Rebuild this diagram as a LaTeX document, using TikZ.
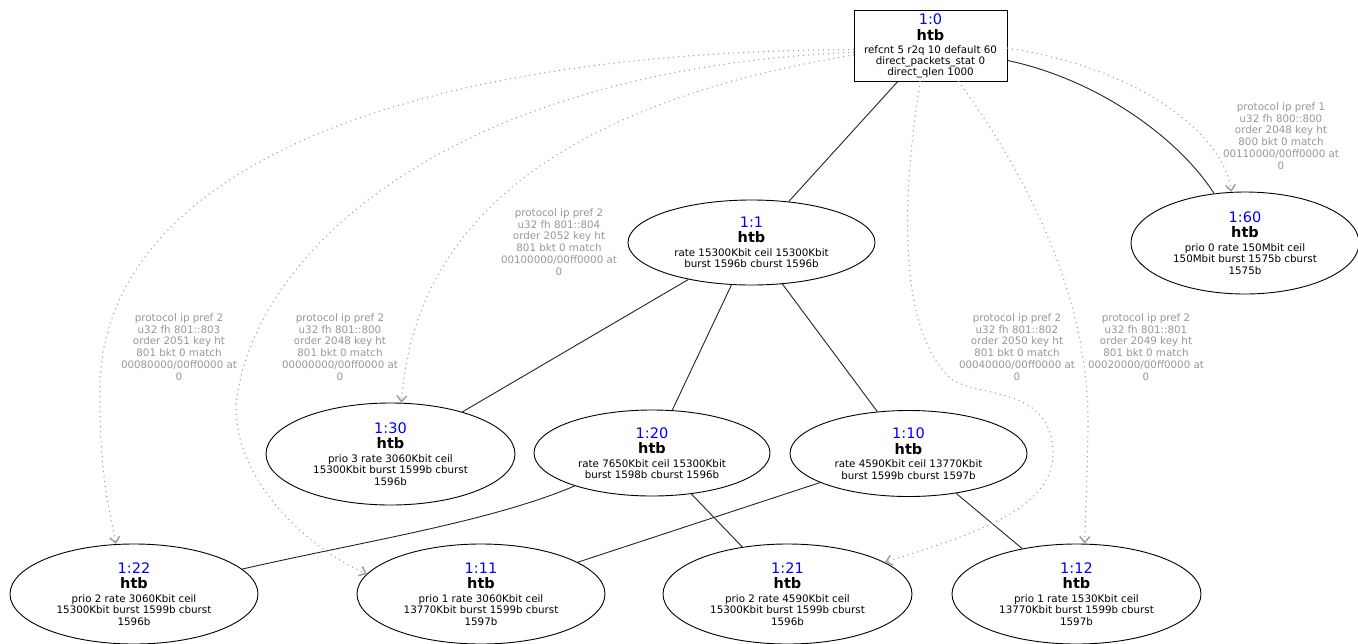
\documentclass[tikz,border=0pt]{standalone}
\usepackage{fontspec}
\setmainfont{DejaVu Sans}
\usetikzlibrary{shapes.geometric,arrows.meta}

\definecolor{idblue}{RGB}{0,0,255}
\definecolor{filtergray}{RGB}{160,160,160}
\definecolor{filtertext}{RGB}{150,150,150}
\definecolor{linkdark}{RGB}{35,35,35}

% heading of a qdisc/class box: blue handle, then the kind
\newcommand\qhead[1]{{\fontsize{14.5}{15.5}\selectfont\color{idblue}#1}\\[4pt]{\fontsize{14.5}{15.5}\selectfont\bfseries htb}\\[2pt]}

\tikzset{
  qclass/.style={ellipse, draw, line width=0.9pt, inner sep=0pt, align=center,
                 font=\fontsize{10.3}{11.5}\selectfont},
  qroot/.style={rectangle, draw, line width=0.9pt, inner sep=0pt, align=center,
                font=\fontsize{10.3}{11}\selectfont,
                minimum width=153pt, minimum height=71pt},
  link/.style={draw=linkdark, line width=0.9pt},
  filter/.style={draw=filtergray, line width=1.5pt, dash pattern=on 0pt off 5pt,
                 line cap=round,
                 -{Straight Barb[length=6pt,width=10pt,line width=1.5pt]}},
  filterlabel/.style={text=filtertext, align=center, inner sep=0pt,
                      font=\fontsize{10.3}{11.8}\selectfont}
}

\begin{document}
\begin{tikzpicture}[x=1pt,y=-1pt]
\useasboundingbox (0,0) rectangle (1358,643);

% root qdisc
\node[qroot] (q0) at (930.5,45.5)
  {\qhead{1:0}refcnt 5 r2q 10 default 60\\direct\_packets\_stat 0\\direct\_qlen 1000};

% classes
\node[qclass, minimum width=247pt, minimum height=85pt] (q1) at (751.5,242.5)
  {\qhead{1:1}rate 15300Kbit ceil 15300Kbit\\burst 1596b cburst 1596b};
\node[qclass, minimum width=228pt, minimum height=102pt] (q60) at (1245,243)
  {\qhead{1:60}prio 0 rate 150Mbit ceil\\150Mbit burst 1575b cburst\\1575b};
\node[qclass, minimum width=249pt, minimum height=102pt] (q30) at (390.5,454)
  {\qhead{1:30}prio 3 rate 3060Kbit ceil\\15300Kbit burst 1599b cburst\\1596b};
\node[qclass, minimum width=236pt, minimum height=86pt] (q20) at (652,453)
  {\qhead{1:20}rate 7650Kbit ceil 15300Kbit\\burst 1598b cburst 1596b};
\node[qclass, minimum width=237pt, minimum height=86pt] (q10) at (908.5,453.5)
  {\qhead{1:10}rate 4590Kbit ceil 13770Kbit\\burst 1599b cburst 1597b};
\node[qclass, minimum width=248pt, minimum height=100pt] (q22) at (134,594)
  {\qhead{1:22}prio 2 rate 3060Kbit ceil\\15300Kbit burst 1599b cburst\\1596b};
\node[qclass, minimum width=248pt, minimum height=100pt] (q11) at (481,594)
  {\qhead{1:11}prio 1 rate 3060Kbit ceil\\13770Kbit burst 1599b cburst\\1597b};
\node[qclass, minimum width=249pt, minimum height=100pt] (q21) at (787.5,594)
  {\qhead{1:21}prio 2 rate 4590Kbit ceil\\15300Kbit burst 1599b cburst\\1596b};
\node[qclass, minimum width=249pt, minimum height=100pt] (q12) at (1076.5,594)
  {\qhead{1:12}prio 1 rate 1530Kbit ceil\\13770Kbit burst 1599b cburst\\1597b};

% class hierarchy
\draw[link] (q0) -- (q1);
\draw[link] (q0.-11) .. controls (1100,80) and (1180,140) .. (q60.122);
\draw[link] (q1) -- (q30);
\draw[link] (q1) -- (q20);
\draw[link] (q1) -- (q10);
\draw[link] (q20) .. controls (490,522) and (360,542) .. (q22);
\draw[link] (q20) -- (q21);
\draw[link] (q10) -- (q11);
\draw[link] (q10) -- (q12);

% u32 filters
\draw[filter] (q0.-2) .. controls (1150,70) and (1225,140) .. (q60.105);
\draw[filter] (q0.-173) .. controls (580,100) and (415,210) .. (q30.78);
\draw[filter] (q0.-177) .. controls (360,52) and (92,190) .. (100,400)
              .. controls (100,480) and (110,510) .. (q22.110);
\draw[filter] (q0.-175) .. controls (450,70) and (258,250) .. (237,397)
              .. controls (228,470) and (300,545) .. (q11.170);
\draw[filter] (q0.-106) .. controls (900,210) and (900,330) .. (950,378)
              .. controls (975,398) and (1050,385) .. (1053,450)
              .. controls (1056,510) and (970,535) .. (q21.18);
\draw[filter] (q0.-52) .. controls (1030,180) and (1090,300) .. (1088,430)
              .. controls (1087,480) and (1086,510) .. (q12.81);

% filter descriptions
\node[filterlabel] (lab60) at (1281,136)
  {protocol ip pref 1\\u32 fh 800::800\\order 2048 key ht\\800 bkt 0 match\\00110000/00ff0000 at\\0};
\node[filterlabel] (lab30) at (559,242)
  {protocol ip pref 2\\u32 fh 801::804\\order 2052 key ht\\801 bkt 0 match\\00100000/00ff0000 at\\0};
\node[filterlabel] (lab22) at (179,347)
  {protocol ip pref 2\\u32 fh 801::803\\order 2051 key ht\\801 bkt 0 match\\00080000/00ff0000 at\\0};
\node[filterlabel] (lab11) at (340,347)
  {protocol ip pref 2\\u32 fh 801::800\\order 2048 key ht\\801 bkt 0 match\\00000000/00ff0000 at\\0};
\node[filterlabel] (lab21) at (1017,347)
  {protocol ip pref 2\\u32 fh 801::802\\order 2050 key ht\\801 bkt 0 match\\00040000/00ff0000 at\\0};
\node[filterlabel] (lab12) at (1146,347)
  {protocol ip pref 2\\u32 fh 801::801\\order 2049 key ht\\801 bkt 0 match\\00020000/00ff0000 at\\0};
\end{tikzpicture}
\end{document}
